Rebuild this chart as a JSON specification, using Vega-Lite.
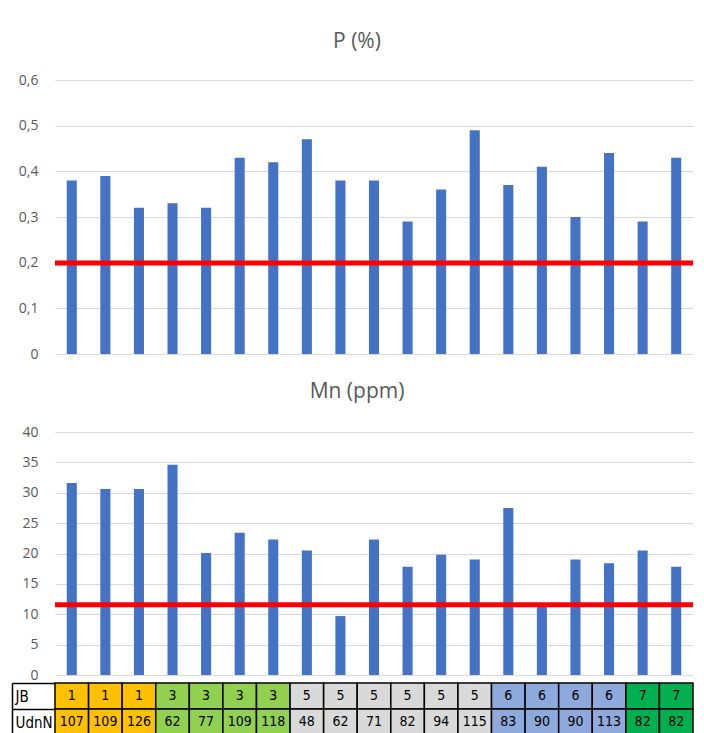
{
  "$schema": "https://vega.github.io/schema/vega-lite/v6.json",
  "background": "white",
  "padding": {"left": 11, "top": 31, "right": 10, "bottom": 0},
  "config": {
    "view": {"stroke": null},
    "font": "Open Sans",
    "title": {"fontSize": 21, "fontWeight": "normal", "color": "#595959", "font": "Open Sans"}
  },
  "datasets": {
    "samples": [
      {"id": 1, "JB": 1, "UdnN": 107, "P": 0.38, "Mn": 31.6},
      {"id": 2, "JB": 1, "UdnN": 109, "P": 0.39, "Mn": 30.6},
      {"id": 3, "JB": 1, "UdnN": 126, "P": 0.32, "Mn": 30.6},
      {"id": 4, "JB": 3, "UdnN": 62, "P": 0.33, "Mn": 34.6},
      {"id": 5, "JB": 3, "UdnN": 77, "P": 0.32, "Mn": 20.1},
      {"id": 6, "JB": 3, "UdnN": 109, "P": 0.43, "Mn": 23.4},
      {"id": 7, "JB": 3, "UdnN": 118, "P": 0.42, "Mn": 22.3},
      {"id": 8, "JB": 5, "UdnN": 48, "P": 0.47, "Mn": 20.5},
      {"id": 9, "JB": 5, "UdnN": 62, "P": 0.38, "Mn": 9.7},
      {"id": 10, "JB": 5, "UdnN": 71, "P": 0.38, "Mn": 22.3},
      {"id": 11, "JB": 5, "UdnN": 82, "P": 0.29, "Mn": 17.8},
      {"id": 12, "JB": 5, "UdnN": 94, "P": 0.36, "Mn": 19.8},
      {"id": 13, "JB": 5, "UdnN": 115, "P": 0.49, "Mn": 19.0},
      {"id": 14, "JB": 6, "UdnN": 83, "P": 0.37, "Mn": 27.5},
      {"id": 15, "JB": 6, "UdnN": 90, "P": 0.41, "Mn": 11.3},
      {"id": 16, "JB": 6, "UdnN": 90, "P": 0.30, "Mn": 19.0},
      {"id": 17, "JB": 6, "UdnN": 113, "P": 0.44, "Mn": 18.4},
      {"id": 18, "JB": 7, "UdnN": 82, "P": 0.29, "Mn": 20.5},
      {"id": 19, "JB": 7, "UdnN": 82, "P": 0.43, "Mn": 17.8}
    ]
  },
  "spacing": -6,
  "vconcat": [
    {
      "spacing": 20,
      "vconcat": [
        {
          "width": 638,
          "height": 274,
          "title": {"text": "P (%)", "offset": 21, "dx": -17},
          "layer": [
            {
              "data": {"name": "samples"},
              "mark": {"type": "bar", "color": "#4472C4"},
              "encoding": {
                "x": {"field": "id", "type": "ordinal", "axis": null, "scale": {"paddingInner": 0.7, "paddingOuter": 0.35}},
                "y": {
                  "field": "P", "type": "quantitative",
                  "scale": {"domain": [0, 0.6]},
                  "axis": {
                    "title": null, "domain": false, "ticks": false, "labelOverlap": false,
                    "values": [0, 0.1, 0.2, 0.3, 0.4, 0.5, 0.6],
                    "gridColor": "#D9D9D9", "labelColor": "#595959", "labelFontSize": 14, "labelPadding": 17,
                    "labelExpr": "datum.value == 0 ? '0' : replace(format(datum.value, '.1f'), '.', ',')"
                  }
                }
              }
            },
            {
              "data": {"values": [{"limit": 0.199}]},
              "mark": {"type": "rule", "color": "#FF0000", "strokeWidth": 5},
              "encoding": {
                "y": {
                  "field": "limit", "type": "quantitative",
                  "axis": {
                    "title": null, "domain": false, "ticks": false, "labelOverlap": false,
                    "values": [0, 0.1, 0.2, 0.3, 0.4, 0.5, 0.6],
                    "gridColor": "#D9D9D9", "labelColor": "#595959", "labelFontSize": 14, "labelPadding": 17,
                    "labelExpr": "datum.value == 0 ? '0' : replace(format(datum.value, '.1f'), '.', ',')"
                  }
                }
              }
            }
          ]
        },
        {
          "width": 638,
          "height": 243,
          "title": {"text": "Mn (ppm)", "offset": 23, "dx": -17},
          "layer": [
            {
              "data": {"name": "samples"},
              "mark": {"type": "bar", "color": "#4472C4"},
              "encoding": {
                "x": {"field": "id", "type": "ordinal", "axis": null, "scale": {"paddingInner": 0.7, "paddingOuter": 0.35}},
                "y": {
                  "field": "Mn", "type": "quantitative",
                  "scale": {"domain": [0, 40]},
                  "axis": {
                    "title": null, "domain": false, "ticks": false, "labelOverlap": false,
                    "values": [0, 5, 10, 15, 20, 25, 30, 35, 40],
                    "gridColor": "#D9D9D9", "labelColor": "#595959", "labelFontSize": 14, "labelPadding": 17
                  }
                }
              }
            },
            {
              "data": {"values": [{"limit": 11.55}]},
              "mark": {"type": "rule", "color": "#FF0000", "strokeWidth": 5},
              "encoding": {
                "y": {
                  "field": "limit", "type": "quantitative",
                  "axis": {
                    "title": null, "domain": false, "ticks": false, "labelOverlap": false,
                    "values": [0, 5, 10, 15, 20, 25, 30, 35, 40],
                    "gridColor": "#D9D9D9", "labelColor": "#595959", "labelFontSize": 14, "labelPadding": 17
                  }
                }
              }
            }
          ]
        }
      ]
    },
    {
      "data": {"name": "samples"},
      "transform": [{"fold": ["JB", "UdnN"], "as": ["row", "cell"]}],
      "width": 638,
      "height": 52,
      "encoding": {
        "x": {"field": "id", "type": "ordinal", "axis": null, "scale": {"paddingInner": 0, "paddingOuter": 0}},
        "y": {
          "field": "row", "type": "nominal",
          "scale": {"domain": ["JB", "UdnN"], "paddingInner": 0, "paddingOuter": 0},
          "axis": {
            "title": null, "offset": 43,
            "domainColor": "black", "domainWidth": 1.5,
            "ticks": true, "tickColor": "black", "tickWidth": 1.5, "tickSize": -43, "tickBand": "extent",
            "labelAlign": "left", "labelPadding": 40, "labelColor": "black",
            "labelFont": "Liberation Sans Narrow, DejaVu Sans Condensed, sans-serif", "labelFontSize": 15
          }
        }
      },
      "layer": [
        {
          "mark": {"type": "rect", "stroke": "black", "strokeWidth": 1.5},
          "encoding": {
            "fill": {
              "field": "JB", "type": "nominal", "legend": null,
              "scale": {"domain": [1, 3, 5, 6, 7], "range": ["#FFC000", "#92D050", "#D9D9D9", "#8EA9DB", "#00B050"]}
            }
          }
        },
        {
          "mark": {"type": "text", "font": "Liberation Sans Narrow, DejaVu Sans Condensed, sans-serif", "fontSize": 14, "color": "black"},
          "encoding": {"text": {"field": "cell", "type": "nominal"}}
        }
      ]
    }
  ]
}
